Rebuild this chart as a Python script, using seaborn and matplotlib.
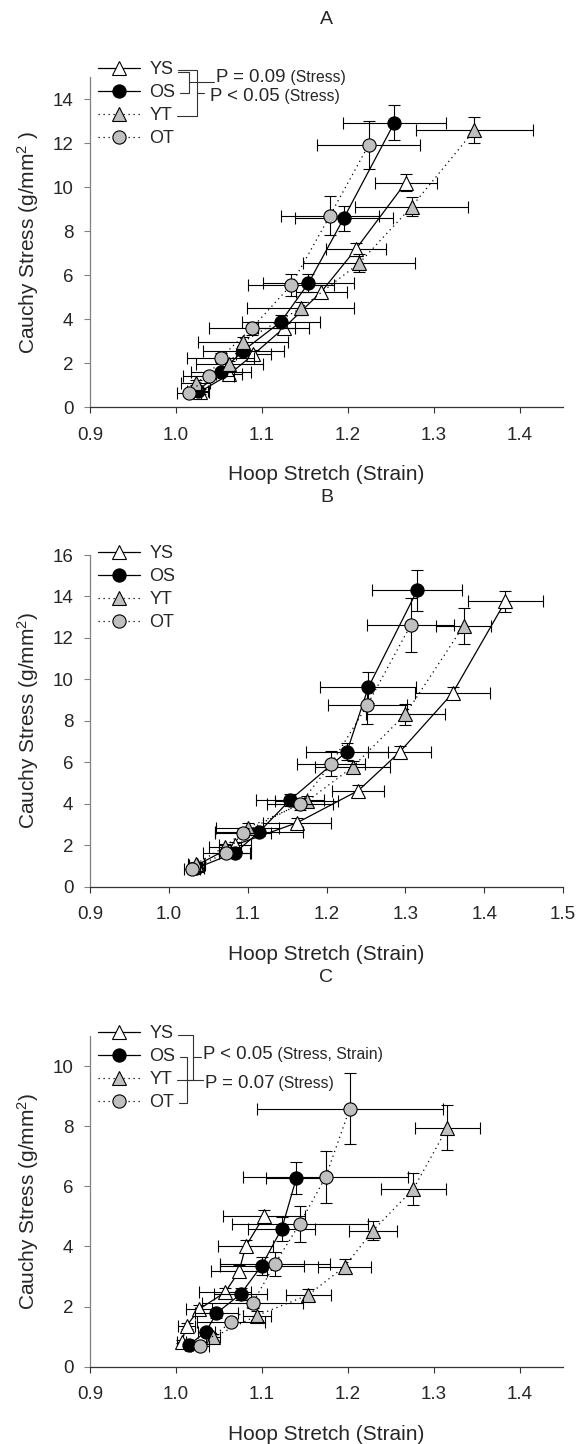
import numpy as np
import pandas as pd
import matplotlib
matplotlib.use("Agg")
import matplotlib.pyplot as plt
import seaborn as sns
from matplotlib.lines import Line2D

# ---------------- data ----------------
groups = ["YS", "OS", "YT", "OT"]

# Panel A
A_YS_x = [1.028, 1.062, 1.090, 1.125, 1.169, 1.209, 1.267]
A_YS_y = [0.71, 1.50, 2.40, 3.59, 5.25, 7.18, 10.21]
A_YS_xe = [0.010, 0.015, 0.020, 0.030, 0.030, 0.035, 0.036]
A_YS_ye = [0.10, 0.15, 0.20, 0.25, 0.30, 0.30, 0.40]
A_OS_x = [1.025, 1.052, 1.078, 1.122, 1.154, 1.195, 1.254]
A_OS_y = [0.75, 1.60, 2.57, 3.89, 5.64, 8.59, 12.94]
A_OS_xe = [0.012, 0.035, 0.047, 0.045, 0.053, 0.057, 0.060]
A_OS_ye = [0.10, 0.15, 0.20, 0.30, 0.40, 0.57, 0.80]
A_YT_x = [1.023, 1.062, 1.078, 1.145, 1.213, 1.274, 1.347]
A_YT_y = [1.12, 1.97, 2.98, 4.50, 6.55, 9.12, 12.60]
A_YT_xe = [0.017, 0.039, 0.052, 0.062, 0.065, 0.066, 0.068]
A_YT_ye = [0.10, 0.15, 0.20, 0.30, 0.40, 0.43, 0.60]
A_OT_x = [1.015, 1.038, 1.052, 1.088, 1.134, 1.179, 1.224]
A_OT_y = [0.66, 1.42, 2.26, 3.59, 5.56, 8.71, 11.92]
A_OT_xe = [0.014, 0.030, 0.039, 0.050, 0.050, 0.057, 0.060]
A_OT_ye = [0.10, 0.15, 0.20, 0.30, 0.50, 0.90, 1.10]

# Panel B
B_YS_x = [1.036, 1.084, 1.163, 1.2405, 1.293, 1.360, 1.427]
B_YS_y = [1.05, 2.01, 3.09, 4.64, 6.50, 9.34, 13.77]
B_YS_xe = [0.010, 0.020, 0.043, 0.033, 0.040, 0.048, 0.048]
B_YS_ye = [0.10, 0.15, 0.20, 0.25, 0.30, 0.30, 0.50]
B_OS_x = [1.0345, 1.084, 1.1145, 1.154, 1.226, 1.253, 1.315]
B_OS_y = [0.89, 1.64, 2.64, 4.19, 6.52, 9.61, 14.29]
B_OS_xe = [0.010, 0.020, 0.056, 0.043, 0.052, 0.061, 0.057]
B_OS_ye = [0.10, 0.15, 0.20, 0.30, 0.40, 0.73, 1.00]
B_YT_x = [1.0345, 1.0713, 1.100, 1.175, 1.233, 1.300, 1.374]
B_YT_y = [1.10, 1.93, 2.85, 4.11, 5.77, 8.31, 12.59]
B_YT_xe = [0.010, 0.020, 0.040, 0.040, 0.047, 0.050, 0.035]
B_YT_ye = [0.10, 0.15, 0.20, 0.25, 0.30, 0.50, 0.86]
B_OT_x = [1.029, 1.073, 1.094, 1.1665, 1.206, 1.252, 1.307]
B_OT_y = [0.86, 1.64, 2.61, 4.00, 5.93, 8.78, 12.63]
B_OT_xe = [0.010, 0.030, 0.036, 0.042, 0.043, 0.050, 0.055]
B_OT_ye = [0.10, 0.15, 0.20, 0.30, 0.60, 0.93, 1.30]

# Panel C
C_YS_x = [1.0066, 1.0124, 1.0271, 1.057, 1.0733, 1.081, 1.1023]
C_YS_y = [0.83, 1.36, 1.92, 2.47, 3.17, 4.00, 5.00]
C_YS_xe = [0.005, 0.010, 0.015, 0.030, 0.033, 0.032, 0.048]
C_YS_ye = [0.05, 0.10, 0.12, 0.15, 0.20, 0.20, 0.20]
C_OS_x = [1.015, 1.035, 1.047, 1.075, 1.0996, 1.123, 1.140]
C_OS_y = [0.72, 1.17, 1.78, 2.41, 3.36, 4.59, 6.28]
C_OS_xe = [0.005, 0.010, 0.025, 0.031, 0.049, 0.039, 0.035]
C_OS_ye = [0.05, 0.10, 0.15, 0.20, 0.30, 0.40, 0.52]
C_YT_x = [1.043, 1.094, 1.154, 1.196, 1.229, 1.276, 1.3155]
C_YT_y = [0.98, 1.70, 2.39, 3.33, 4.53, 5.91, 7.95]
C_YT_xe = [0.008, 0.016, 0.026, 0.031, 0.028, 0.038, 0.038]
C_YT_ye = [0.10, 0.15, 0.20, 0.25, 0.30, 0.54, 0.75]
C_OT_x = [1.028, 1.064, 1.089, 1.115, 1.144, 1.174, 1.202]
C_OT_y = [0.69, 1.48, 2.11, 3.42, 4.76, 6.31, 8.58]
C_OT_xe = [0.010, 0.040, 0.059, 0.064, 0.079, 0.096, 0.108]
C_OT_ye = [0.05, 0.10, 0.15, 0.40, 0.60, 0.86, 1.18]

panel_titles = ["A", "B", "C"]
x_label = "Hoop Stretch (Strain)"
y_labels = ["Cauchy Stress (g/mm$^2$ )", "Cauchy Stress (g/mm$^2$)", "Cauchy Stress (g/mm$^2$)"]
x_limits = [(0.9, 1.45), (0.9, 1.5), (0.9, 1.45)]
x_ticks = [[0.9, 1.0, 1.1, 1.2, 1.3, 1.4], [0.9, 1.0, 1.1, 1.2, 1.3, 1.4, 1.5], [0.9, 1.0, 1.1, 1.2, 1.3, 1.4]]
y_limits = [(0, 15), (0, 16), (0, 11)]
y_ticks = [[0, 2, 4, 6, 8, 10, 12, 14], [0, 2, 4, 6, 8, 10, 12, 14, 16], [0, 2, 4, 6, 8, 10]]

panels = {
    "A": {"YS": (A_YS_x, A_YS_y, A_YS_xe, A_YS_ye), "OS": (A_OS_x, A_OS_y, A_OS_xe, A_OS_ye),
          "YT": (A_YT_x, A_YT_y, A_YT_xe, A_YT_ye), "OT": (A_OT_x, A_OT_y, A_OT_xe, A_OT_ye)},
    "B": {"YS": (B_YS_x, B_YS_y, B_YS_xe, B_YS_ye), "OS": (B_OS_x, B_OS_y, B_OS_xe, B_OS_ye),
          "YT": (B_YT_x, B_YT_y, B_YT_xe, B_YT_ye), "OT": (B_OT_x, B_OT_y, B_OT_xe, B_OT_ye)},
    "C": {"YS": (C_YS_x, C_YS_y, C_YS_xe, C_YS_ye), "OS": (C_OS_x, C_OS_y, C_OS_xe, C_OS_ye),
          "YT": (C_YT_x, C_YT_y, C_YT_xe, C_YT_ye), "OT": (C_OT_x, C_OT_y, C_OT_xe, C_OT_ye)},
}

# ---------------- style ----------------
sns.set_theme(style="ticks")
plt.rcParams["font.family"] = ["Liberation Sans", "DejaVu Sans"]
plt.rcParams["mathtext.fontset"] = "custom"
plt.rcParams["mathtext.rm"] = "Liberation Sans"
plt.rcParams["mathtext.it"] = "Liberation Sans"

GRAY = "#c0c0c0"
DOT = (0, (1, 3))
styles = {
    "YS": dict(marker="^", mfc="white", ls="-", ms=10),
    "OS": dict(marker="o", mfc="black", ls="-", ms=9.5),
    "YT": dict(marker="^", mfc=GRAY, ls=DOT, ms=10),
    "OT": dict(marker="o", mfc=GRAY, ls=DOT, ms=9.5),
}

W, H = 581, 1444
fig = plt.figure(figsize=(W / 100, H / 100), dpi=100)

# axes boxes in pixels (left, top, right, bottom), top-origin
boxes = [(90, 77.3, 563, 407.3), (90, 555, 563, 886.7), (90, 1036, 563, 1366.7)]
title_y = [20, 497, 977]
legend_top = [61, 545, 1025]

axes = []
legends = []
for i, key in enumerate(["A", "B", "C"]):
    l, t, r, b = boxes[i]
    ax = fig.add_axes([l / W, 1 - b / H, (r - l) / W, (b - t) / H])
    axes.append(ax)
    z = 3
    for g in groups:
        x, y, xe, ye = panels[key][g]
        st = styles[g]
        ax.errorbar(x, y, xerr=xe, yerr=ye, fmt="none", ecolor="black",
                    elinewidth=0.8, capsize=4, capthick=0.8, zorder=z)
        df = pd.DataFrame({"x": x, "y": y})
        sns.lineplot(data=df, x="x", y="y", ax=ax, sort=False, estimator=None,
                     color="black", linestyle=st["ls"], linewidth=0.9,
                     marker=st["marker"], markersize=st["ms"],
                     markerfacecolor=st["mfc"], markeredgecolor="black",
                     markeredgewidth=0.8, zorder=z + 0.5, legend=False)
        z += 1
    ax.set_xlim(*x_limits[i])
    ax.set_ylim(*y_limits[i])
    ax.set_xticks(x_ticks[i])
    ax.set_yticks(y_ticks[i])
    ax.set_xticklabels([f"{v:.1f}" for v in x_ticks[i]])
    ax.set_yticklabels([str(v) for v in y_ticks[i]])
    sns.despine(ax=ax)
    ax.spines["left"].set_color("#808080")
    ax.spines["bottom"].set_color("#333333")
    ax.spines["left"].set_linewidth(0.9)
    ax.spines["bottom"].set_linewidth(0.9)
    ax.tick_params(axis="x", length=4, width=0.8, color="#333333", labelsize=13.5, pad=10)
    ax.tick_params(axis="y", length=4, width=0.8, color="#808080", labelsize=13.5, pad=8)
    ax.set_xlabel(x_label, fontsize=15, va="center")
    ax.xaxis.set_label_coords(0.5, -(475 - 407.3) / 330)
    ax.set_ylabel(y_labels[i], fontsize=15, va="center")
    ax.yaxis.set_label_coords((28 - l) / (r - l), 0.5)
    ax.set_facecolor("white")
    fig.text(326.5 / W, 1 - title_y[i] / H, panel_titles[i], ha="center", va="center", fontsize=14)

    handles = [Line2D([], [], color="black", linestyle=styles[g]["ls"], linewidth=0.9,
                      marker=styles[g]["marker"], markersize=styles[g]["ms"],
                      markerfacecolor=styles[g]["mfc"], markeredgecolor="black",
                      markeredgewidth=0.8) for g in groups]
    leg = ax.legend(handles, groups, loc="upper left",
                    bbox_to_anchor=(98 / W, 1 - legend_top[i] / H),
                    bbox_transform=fig.transFigure, frameon=False, fontsize=13,
                    handlelength=2.3, handletextpad=0.55, labelspacing=0.33,
                    borderpad=0, borderaxespad=0, numpoints=1)
    legends.append(leg)

fig.canvas.draw()
renderer = fig.canvas.get_renderer()

def row_info(leg):
    out = []
    for t in leg.get_texts():
        bb = t.get_window_extent(renderer)
        out.append((bb.x0, bb.x1, H - (bb.y0 + bb.y1) / 2 + 1))
    return out

LC = "#333333"

def fline(xs, ys):
    fig.add_artist(Line2D([x / W for x in xs], [1 - y / H for y in ys],
                          transform=fig.transFigure, color=LC, linewidth=0.8))

def bracket(r1, r2, xb, tick, dy1=0, dy2=0):
    x1, y1 = r1[1] + 5, r1[2] + dy1
    x2, y2 = r2[1] + 5, r2[2] + dy2
    fline([x1, xb, xb, x2], [y1, y1, y2, y2])
    ym = (y1 + y2) / 2
    fline([xb, xb + tick], [ym, ym])
    return xb + tick, ym

def ptext(x, yc, big, small):
    t1 = fig.text(x / W, 1 - (yc + 6) / H, big, fontsize=13.4, va="baseline", ha="left")
    fig.canvas.draw()
    bb = t1.get_window_extent(fig.canvas.get_renderer())
    fig.text(bb.x1 / W, 1 - (yc + 6) / H, " " + small, fontsize=11.3, va="baseline", ha="left")

# Panel A brackets
rA = row_info(legends[0])
xs0 = rA[0][0]
xe, ym = bracket(rA[0], rA[1], xs0 + 40, 25, dy1=1)
ptext(xe + 2, ym - 6, "P = 0.09", "(Stress)")
xe, ym = bracket(rA[0], rA[2], xs0 + 48, 7, dy1=-1)
ptext(xe + 6, ym + 2, "P < 0.05", "(Stress)")

# Panel C brackets
rC = row_info(legends[2])
xs0 = rC[0][0]
xe, ym = bracket(rC[0], rC[2], xs0 + 43.3, 8.4)
ptext(xe + 2, ym - 4, "P < 0.05", "(Stress, Strain)")
xe, ym = bracket(rC[1], rC[3], xs0 + 37.3, 16)
ptext(xe + 2, ym + 2, "P = 0.07", "(Stress)")

fig.savefig("out.png", dpi=100, facecolor="white")
